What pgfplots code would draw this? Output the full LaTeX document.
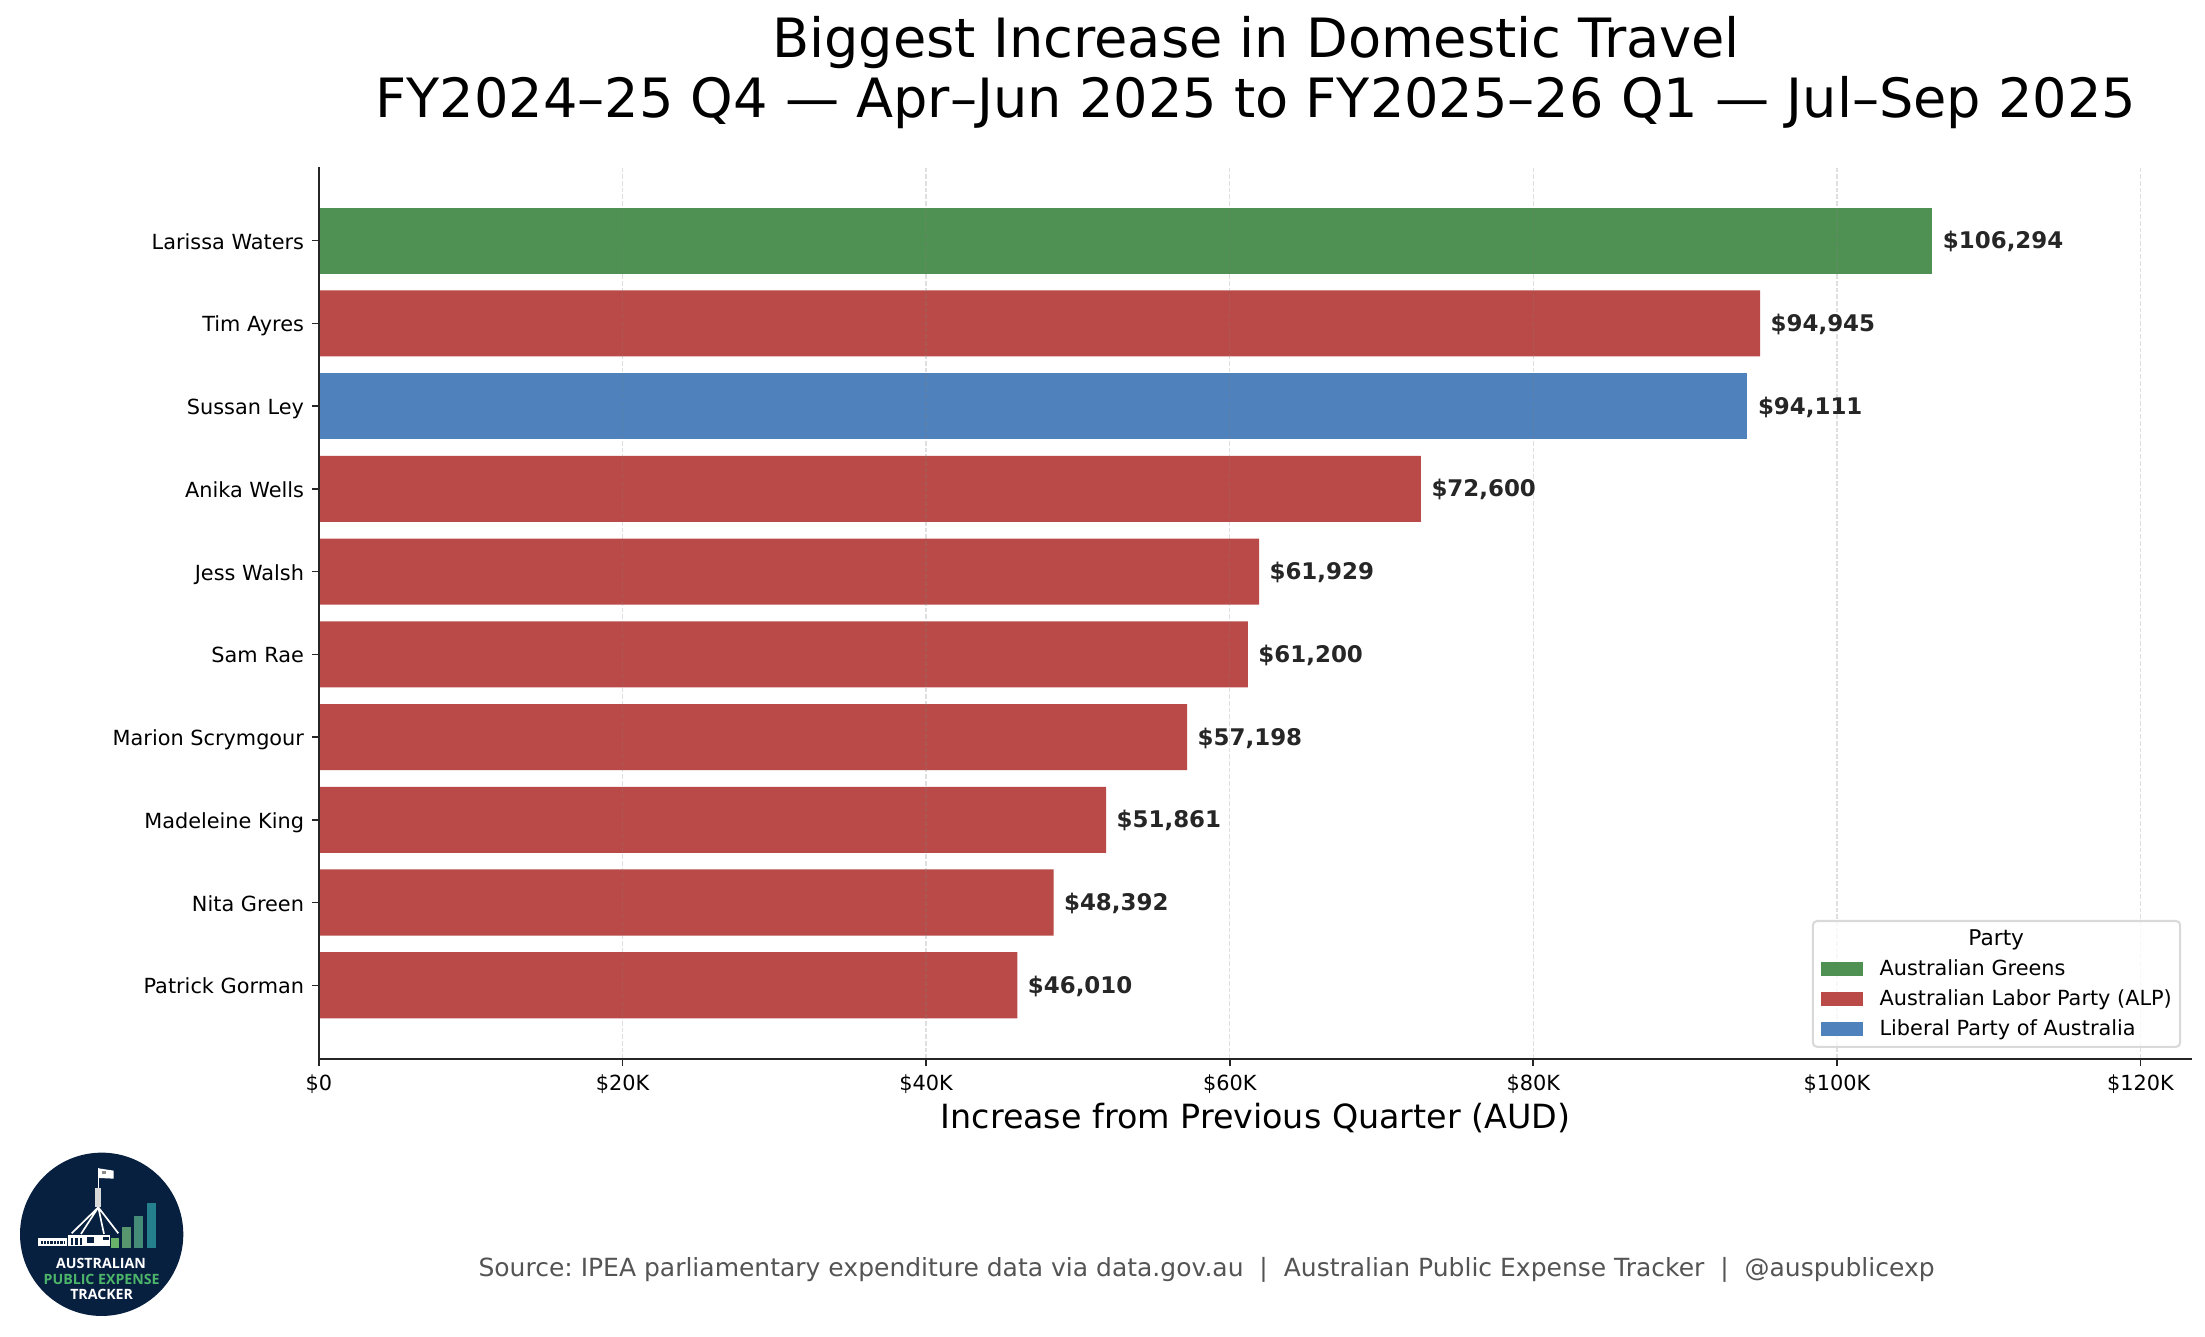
\documentclass[border=0pt]{standalone}
\usepackage{pgfplots}
\pgfplotsset{compat=1.18}
\usepackage{fontspec}
\setmainfont{DejaVu Sans}
\newfontfamily\logofont{Open Sans}
\definecolor{greens}{RGB}{79,145,82}
\definecolor{labor}{RGB}{185,74,72}
\definecolor{liberal}{RGB}{79,129,189}
\definecolor{spine}{RGB}{38,38,38}
\definecolor{navy}{RGB}{8,32,64}
\definecolor{logoa}{RGB}{106,178,106}
\definecolor{logob}{RGB}{88,150,110}
\definecolor{logoc}{RGB}{68,140,120}
\definecolor{logod}{RGB}{36,128,140}
\definecolor{logotext}{RGB}{76,181,106}
\newcommand{\fs}[1]{\fontsize{#1bp}{1.2\dimexpr #1bp\relax}\selectfont}
\frenchspacing

\begin{document}
\begin{tikzpicture}[x=0.36bp,y=0.36bp]
\path[use as bounding box] (0,0) rectangle (2205,1337);

\begin{axis}[
at={(114.84bp,100.08bp)},
anchor=south west,
scale only axis,
width=674.28bp,
height=321.12bp,
xmin=0, xmax=123400,
ymin=-0.89, ymax=9.89,
axis x line*=bottom,
axis y line*=left,
axis line style={-,spine,line width=0.75bp},
tick style={spine,line width=0.6bp},
tick align=outside,
major tick length=2.6bp,
xtick={0,20000,40000,60000,80000,100000,120000},
xticklabels={\$0,\$20K,\$40K,\$60K,\$80K,\$100K,\$120K},
ytick={0,1,2,3,4,5,6,7,8,9},
yticklabels={Patrick Gorman,Nita Green,Madeleine King,Marion Scrymgour,Sam Rae,Jess Walsh,Anika Wells,Sussan Ley,Tim Ayres,Larissa Waters},
ticklabel style={font=\fs{7.5},inner sep=2.6bp},
yticklabel style={text height=6.6bp,text depth=0.4bp},
xticklabel style={text height=6bp,text depth=1bp},
scaled x ticks=false,
xmajorgrids,
grid style={gray,line width=0.5bp,opacity=0.25,dash pattern=on 1.7bp off 0.7bp},
axis on top,
xbar,
bar shift=0pt,
bar width=0.8,
point meta=explicit symbolic,
nodes near coords,
every node near coord/.append style={anchor=west,font=\fs{8.25}\bfseries,text=black!85,inner sep=2.7bp,xshift=0.9bp,yshift=-0.4bp},
legend cell align=left,
legend style={at={(1,0)},anchor=south east,xshift=-3.9bp,yshift=4bp,
  draw=black!15,line width=0.75bp,rounded corners=1.5bp,fill=white,fill opacity=0.8,text opacity=1,
  font=\fs{7.5},row sep=2.3bp,column sep=0bp,inner xsep=3bp,inner ysep=2.2bp,
  nodes={inner sep=0pt,text height=6.5bp,text depth=2bp}},
legend image code/.code={\fill[#1,fill opacity=1,sharp corners] (0bp,-2.5bp) rectangle (15bp,2.5bp);\path (21bp,0);},
xlabel={\fs{12}Increase from Previous Quarter (AUD)},
xlabel style={at={(axis description cs:0.5,0)},anchor=north,yshift=-12.4bp,xshift=0bp},
title={Biggest Increase in Domestic Travel\\FY2024–25 Q4 — Apr–Jun 2025 to FY2025–26 Q1 — Jul–Sep 2025},
title style={at={(axis description cs:0.5,1)},anchor=south,align=center,yshift=4.4bp,xshift=0.2bp,font=\fontsize{19.5bp}{21.4bp}\selectfont},
]
\addlegendimage{empty legend}
\addlegendentry{\rule{0pt}{8.1bp}\hspace*{32bp}\fs{7.8}Party}
\addplot[fill=greens,draw=none] coordinates {
(106294,9) [\$106,294]
};
\addlegendentry{Australian Greens}
\addplot[fill=labor,draw=none] coordinates {
(94945,8) [\$94,945]
(72600,6) [\$72,600]
(61929,5) [\$61,929]
(61200,4) [\$61,200]
(57198,3) [\$57,198]
(51861,2) [\$51,861]
(48392,1) [\$48,392]
(46010,0) [\$46,010]
};
\addlegendentry{Australian Labor Party (ALP)}
\addplot[fill=liberal,draw=none] coordinates {
(94111,7) [\$94,111]
};
\addlegendentry{Liberal Party of Australia}
\end{axis}

\node[font=\fs{9},text=black!67,anchor=center] at (1206.5,67.5) {Source: IPEA parliamentary expenditure data via data.gov.au \ | \ Australian Public Expense Tracker \ | \ @auspublicexp};

% logo, in pixels of a 3x crop starting at y=1130
\begin{scope}[shift={(0,207)},x=0.12bp,y=-0.12bp]
\fill[navy] (305,313) circle (245);
\fill[white] (295,115)--(341,122)--(341,146)--(297,144)--cycle;
\fill[black!45] (306,124) rectangle (318,132);
\draw[white,line width=0.4bp] (295,115)--(295,175);
\fill[black!15] (286,175) rectangle (302,230);
\draw[white,line width=0.6bp] (295,232)--(215,310) (295,232)--(243,312) (295,232)--(312,312) (295,232)--(355,310);
\fill[white] (115,325) rectangle (200,347);
\fill[white] (203,316) rectangle (330,347);
\fill[navy] (122,332) rectangle (195,343);
\foreach \i in {0,1,2,3,4,5,6} {\fill[white] (128+\i*10,330) rectangle (131+\i*10,345);}
\foreach \i in {0,1,2} {\fill[navy] (212+\i*14,324) rectangle (219+\i*14,345);}
\fill[navy] (262,322) rectangle (282,338);
\fill[navy] (310,320) rectangle (328,330);
\fill[logoa] (332,323) rectangle (356,355);
\fill[logob] (367,290) rectangle (392,355);
\fill[logoc] (403,258) rectangle (430,355);
\fill[logod] (441,219) rectangle (468,355);
\node[font=\logofont\fs{5.1}\bfseries,text=white] at (303,400) {AUSTRALIAN};
\node[font=\logofont\fs{5.1}\bfseries,text=logotext] at (305,447) {PUBLIC EXPENSE};
\node[font=\logofont\fs{5.1}\bfseries,text=white] at (305,493) {TRACKER};
\end{scope}
\end{tikzpicture}
\end{document}
